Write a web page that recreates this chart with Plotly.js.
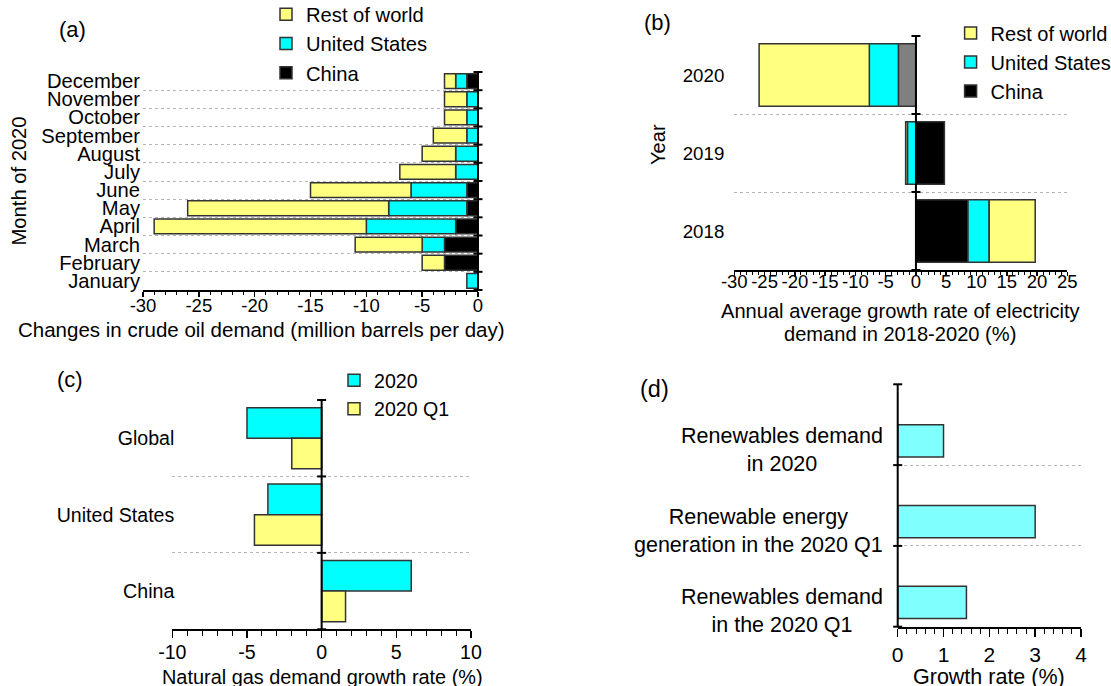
<!DOCTYPE html>
<html>
<head>
<meta charset="utf-8">
<script src="https://cdn.plot.ly/plotly-3.0.1.min.js"></script>
<style>
html, body { margin: 0; padding: 0; background: #ffffff; }
#chart { width: 1111px; height: 686px; }
</style>
</head>
<body>
<div id="chart"></div>
<script>
// ---------- DATA ----------
// (a) Changes in crude oil demand by month of 2020 (million barrels per day)
const months = ['January', 'February', 'March', 'April', 'May', 'June', 'July',
                'August', 'September', 'October', 'November', 'December'];
const oilChina = [0, -3, -3, -2, -1, -1, 0, 0, 0, 0, 0, -1];
const oilUS    = [-1, 0, -2, -8, -7, -5, -2, -2, -1, -1, -1, -1];
const oilRest  = [0, -2, -6, -19, -18, -9, -5, -3, -3, -2, -2, -1];

// (b) Annual average growth rate of electricity demand in 2018-2020 (%)
const years = ['2018', '2019', '2020'];
const elecChina = [8.6, 4.7, -2.9];
const elecUS    = [3.5, -1.4, -4.8];
const elecRest  = [7.6, -0.3, -18.2];

// (c) Natural gas demand growth rate (%)
const gasRegions = ['Global', 'United States', 'China'];
const gas2020 = [-5.0, -3.6, 6.0];
const gasQ1   = [-2.0, -4.5, 1.6];

// (d) Renewables growth rate (%)
const renewCats = ['Renewables demand<br>in 2020',
                   'Renewable energy<br>generation in the 2020 Q1',
                   'Renewables demand<br>in the 2020 Q1'];
const renewGrowth = [1.0, 3.0, 1.5];

// tick labels
const oilTicks   = [-30, -25, -20, -15, -10, -5, 0];
const elecTicks  = [-30, -25, -20, -15, -10, -5, 0, 5, 10, 15, 20, 25];
const gasTicks   = [-10, -5, 0, 5, 10];
const renewTicks = [0, 1, 2, 3, 4];

// ---------- STYLE ----------
const YELLOW = '#FFFF80', CYAN = '#00FFFF', BLACK = '#000000', GRAY = '#808080',
      LIGHTCYAN = '#80FFFF', OUTLINE = '#333333';
const FONT = 'Liberation Sans, Arial, Helvetica, sans-serif';
const W = 1111, H = 686;
const px = v => v / W;
const py = v => 1 - v / H;

function xAxis(o) {
  return {
    domain: [px(o.left), px(o.right)], anchor: o.anchor, range: o.range, fixedrange: true,
    showline: true, linecolor: '#000', linewidth: 2,
    ticks: 'outside', ticklen: o.len, tickwidth: 1.5, tickcolor: '#000', tickangle: 0,
    tickmode: 'array', tickvals: o.ticks, ticktext: o.ticks.map(String),
    tickfont: {size: o.fs, color: '#000', family: FONT},
    minor: {dtick: o.minor, ticks: 'outside', ticklen: o.mlen, tickwidth: 1, tickcolor: '#000', showgrid: false},
    showgrid: false, zeroline: false, ticklabelstandoff: o.standoff
  };
}
function yAxis(o) {
  return {
    domain: [py(o.bottom), py(o.top)], anchor: o.anchor, type: 'category',
    categoryorder: 'array', categoryarray: o.cats, range: [-0.5, o.cats.length - 0.5], fixedrange: true,
    tickmode: 'array', tickvals: o.cats, ticktext: o.cats,
    showline: false, ticks: '', tickson: 'boundaries',
    showgrid: true, gridcolor: '#b4b4b4', griddash: 'dot', gridwidth: 1, zeroline: false,
    showticklabels: o.labels !== false, tickfont: {size: o.fs || 20, color: '#000', family: FONT},
    ticklabelstandoff: o.standoff || 0
  };
}
// vertical axis line drawn where x = 0, with crossing ticks at the category boundaries
function zeroAxisShapes(xax, yName, n) {
  const zp = xax.domain[0] + (xax.domain[1] - xax.domain[0]) * (0 - xax.range[0]) / (xax.range[1] - xax.range[0]);
  const yr = yName + ' domain';
  const s = [{type: 'line', xref: 'paper', yref: yr, x0: zp, x1: zp, y0: 0, y1: 1,
              line: {color: '#000', width: 2}}];
  for (let k = 0; k <= n; k++) {
    s.push({type: 'line', xref: 'paper', yref: yr, xsizemode: 'pixel', xanchor: zp, x0: -4.5, x1: 4.5,
            y0: k / n, y1: k / n, line: {color: '#000', width: 2}});
  }
  return s;
}
const barLine = {color: OUTLINE, width: 1.5};

// ---------- TRACES ----------
const traces = [
  // (a)
  {type: 'bar', orientation: 'h', name: 'China', y: months, x: oilChina, xaxis: 'x', yaxis: 'y',
   width: 0.82, marker: {color: BLACK, line: barLine}, legend: 'legend'},
  {type: 'bar', orientation: 'h', name: 'United States', y: months, x: oilUS, xaxis: 'x', yaxis: 'y',
   width: 0.82, marker: {color: CYAN, line: barLine}, legend: 'legend'},
  {type: 'bar', orientation: 'h', name: 'Rest of world', y: months, x: oilRest, xaxis: 'x', yaxis: 'y',
   width: 0.82, marker: {color: YELLOW, line: barLine}, legend: 'legend'},
  // (b)
  {type: 'bar', orientation: 'h', name: 'China', y: years, x: elecChina, xaxis: 'x2', yaxis: 'y2',
   width: 0.8, marker: {color: years.map(y => y === '2020' ? GRAY : BLACK), line: barLine}, legend: 'legend2'},
  {type: 'bar', orientation: 'h', name: 'United States', y: years, x: elecUS, xaxis: 'x2', yaxis: 'y2',
   width: 0.8, marker: {color: CYAN, line: barLine}, legend: 'legend2'},
  {type: 'bar', orientation: 'h', name: 'Rest of world', y: years, x: elecRest, xaxis: 'x2', yaxis: 'y2',
   width: 0.8, marker: {color: YELLOW, line: barLine}, legend: 'legend2'},
  // (c)
  {type: 'bar', orientation: 'h', name: '2020', y: gasRegions, x: gas2020, xaxis: 'x3', yaxis: 'y3',
   width: 0.4, offset: 0, marker: {color: CYAN, line: barLine}, legend: 'legend3'},
  {type: 'bar', orientation: 'h', name: '2020 Q1', y: gasRegions, x: gasQ1, xaxis: 'x3', yaxis: 'y5',
   width: 0.4, offset: -0.4, marker: {color: YELLOW, line: barLine}, legend: 'legend3'},
  // (d)
  {type: 'bar', orientation: 'h', name: 'Growth rate', y: renewCats, x: renewGrowth, xaxis: 'x4', yaxis: 'y4',
   width: 0.4, offset: -0.4, marker: {color: LIGHTCYAN, line: barLine}, showlegend: false}
];

const gasOrder = gasRegions.slice().reverse();
const renewOrder = renewCats.slice().reverse();

const xa1 = xAxis({left: 143, right: 478, anchor: 'y', range: [-30, 0], ticks: oilTicks, minor: 1,
                   len: 5, mlen: 3, fs: 18.5, standoff: -7});
const xa2 = xAxis({left: 734.3, right: 1067.3, anchor: 'y2', range: [-30, 25], ticks: elecTicks, minor: 1,
                   len: 4, mlen: 2.5, fs: 18.5, standoff: -10});
const xa3 = xAxis({left: 172.3, right: 471, anchor: 'y3', range: [-10, 10], ticks: gasTicks, minor: 1,
                   len: 7, mlen: 4.5, fs: 19.6, standoff: -3});
const xa4 = xAxis({left: 897.7, right: 1081, anchor: 'y4', range: [0, 4], ticks: renewTicks, minor: 0.2,
                   len: 8, mlen: 5, fs: 21, standoff: 0});

const shapes = [].concat(
  zeroAxisShapes(xa1, 'y', months.length),
  zeroAxisShapes(xa2, 'y2', years.length),
  zeroAxisShapes(xa3, 'y3', gasRegions.length),
  zeroAxisShapes(xa4, 'y4', renewCats.length)
);

function note(text, xPx, yPx, fs, extra) {
  return Object.assign({text: text, xref: 'paper', yref: 'paper', x: px(xPx), y: py(yPx),
    xanchor: 'center', yanchor: 'middle', showarrow: false,
    font: {size: fs, color: '#000', family: FONT}}, extra || {});
}

const annotations = [
  note('(a)', 72, 29.5, 22), note('(b)', 657.5, 22.8, 22), note('(c)', 70, 379.5, 22), note('(d)', 654.7, 388.5, 23.5),
  note('Changes in crude oil demand (million barrels per day)', 261, 329, 20.5),
  note('Month of 2020', 18.5, 181, 20.2, {textangle: -90}),
  note('Annual average growth rate of electricity', 900, 311, 20.1),
  note('demand in 2018-2020 (%)', 900, 334, 20.1),
  note('Year', 658, 145, 20.1, {textangle: -90}),
  note('Natural gas demand growth rate (%)', 322, 676.8, 19.9),
  note('Growth rate (%)', 989, 677.2, 21.5)
].concat(renewCats.map(c => ({
  text: c, xref: 'paper', x: px(885), xanchor: 'right', yref: 'y4', y: renewOrder.indexOf(c),
  yanchor: 'middle', yshift: -25, align: 'center', showarrow: false,
  font: {size: 21.5, color: '#000', family: FONT}
})));

const legendBase = {xanchor: 'left', yanchor: 'top', bgcolor: 'rgba(0,0,0,0)', borderwidth: 0,
  itemclick: false, itemdoubleclick: false};

const layout = {
  width: W, height: H, margin: {l: 0, r: 0, t: 0, b: 0, autoexpand: false},
  paper_bgcolor: '#ffffff', plot_bgcolor: '#ffffff',
  font: {family: FONT, size: 20, color: '#000'},
  barmode: 'relative', showlegend: true,
  xaxis: xa1,
  yaxis:  yAxis({top: 72, bottom: 290, anchor: 'x', cats: months, fs: 20.2, standoff: 2}),
  xaxis2: xa2,
  yaxis2: yAxis({top: 36, bottom: 270, anchor: 'x2', cats: years, fs: 18.7, standoff: 9}),
  xaxis3: xa3,
  yaxis3: yAxis({top: 400, bottom: 629.3, anchor: 'x3', cats: gasOrder, fs: 19.6, standoff: -3}),
  yaxis5: Object.assign(yAxis({top: 400, bottom: 629.3, anchor: 'x3', cats: gasOrder, labels: false}),
                        {overlaying: 'y3', visible: false, showgrid: false}),
  xaxis4: xa4,
  yaxis4: yAxis({top: 384.3, bottom: 626.7, anchor: 'x4', cats: renewOrder, labels: false}),
  legend:  Object.assign({}, legendBase, {x: px(266), y: py(-5.3), traceorder: 'reversed',
                                          font: {size: 20.2, color: '#000', family: FONT}}),
  legend2: Object.assign({}, legendBase, {x: px(950.6), y: py(13.6), traceorder: 'reversed',
                                          font: {size: 20, color: '#000', family: FONT}}),
  legend3: Object.assign({}, legendBase, {x: px(334), y: py(361), traceorder: 'normal',
                                          font: {size: 19.6, color: '#000', family: FONT}}),
  shapes: shapes,
  annotations: annotations
};

Plotly.newPlot('chart', traces, layout, {displayModeBar: false, staticPlot: true});
</script>
</body>
</html>
